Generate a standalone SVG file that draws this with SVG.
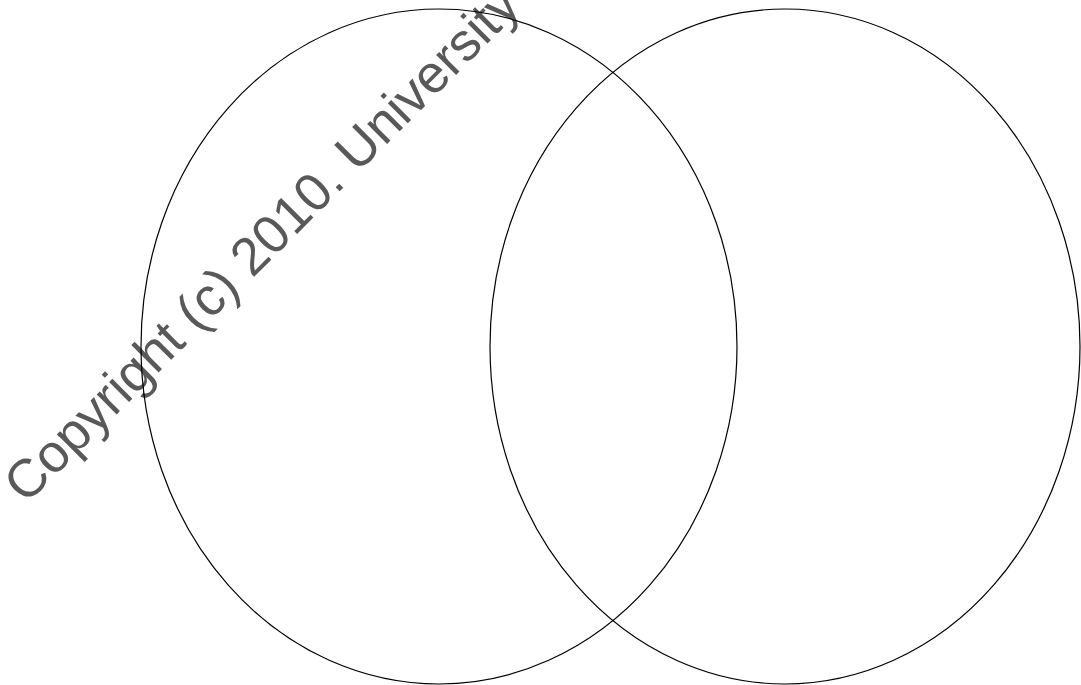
<svg xmlns="http://www.w3.org/2000/svg" width="1081" height="685" viewBox="0 0 1081 685">
  <style>
    .wm { font-family: "Liberation Sans", Arial, sans-serif; font-size: 53.33px; fill: #595959; }
    .set { fill: none; stroke: #000000; stroke-width: 1.2; }
  </style>
  <rect x="0" y="0" width="1081" height="685" fill="#ffffff"/>
  <g id="watermark">
    <text class="wm" x="0" y="0" transform="translate(26 505) rotate(-45)">Copyright (c) 2010. University</text>
  </g>
  <g id="set-left">
    <ellipse class="set" cx="439" cy="346.5" rx="298" ry="337.5"/>
  </g>
  <g id="set-right">
    <ellipse class="set" cx="785" cy="346.5" rx="295" ry="337.5"/>
  </g>
  <g id="connectors"></g>
</svg>
